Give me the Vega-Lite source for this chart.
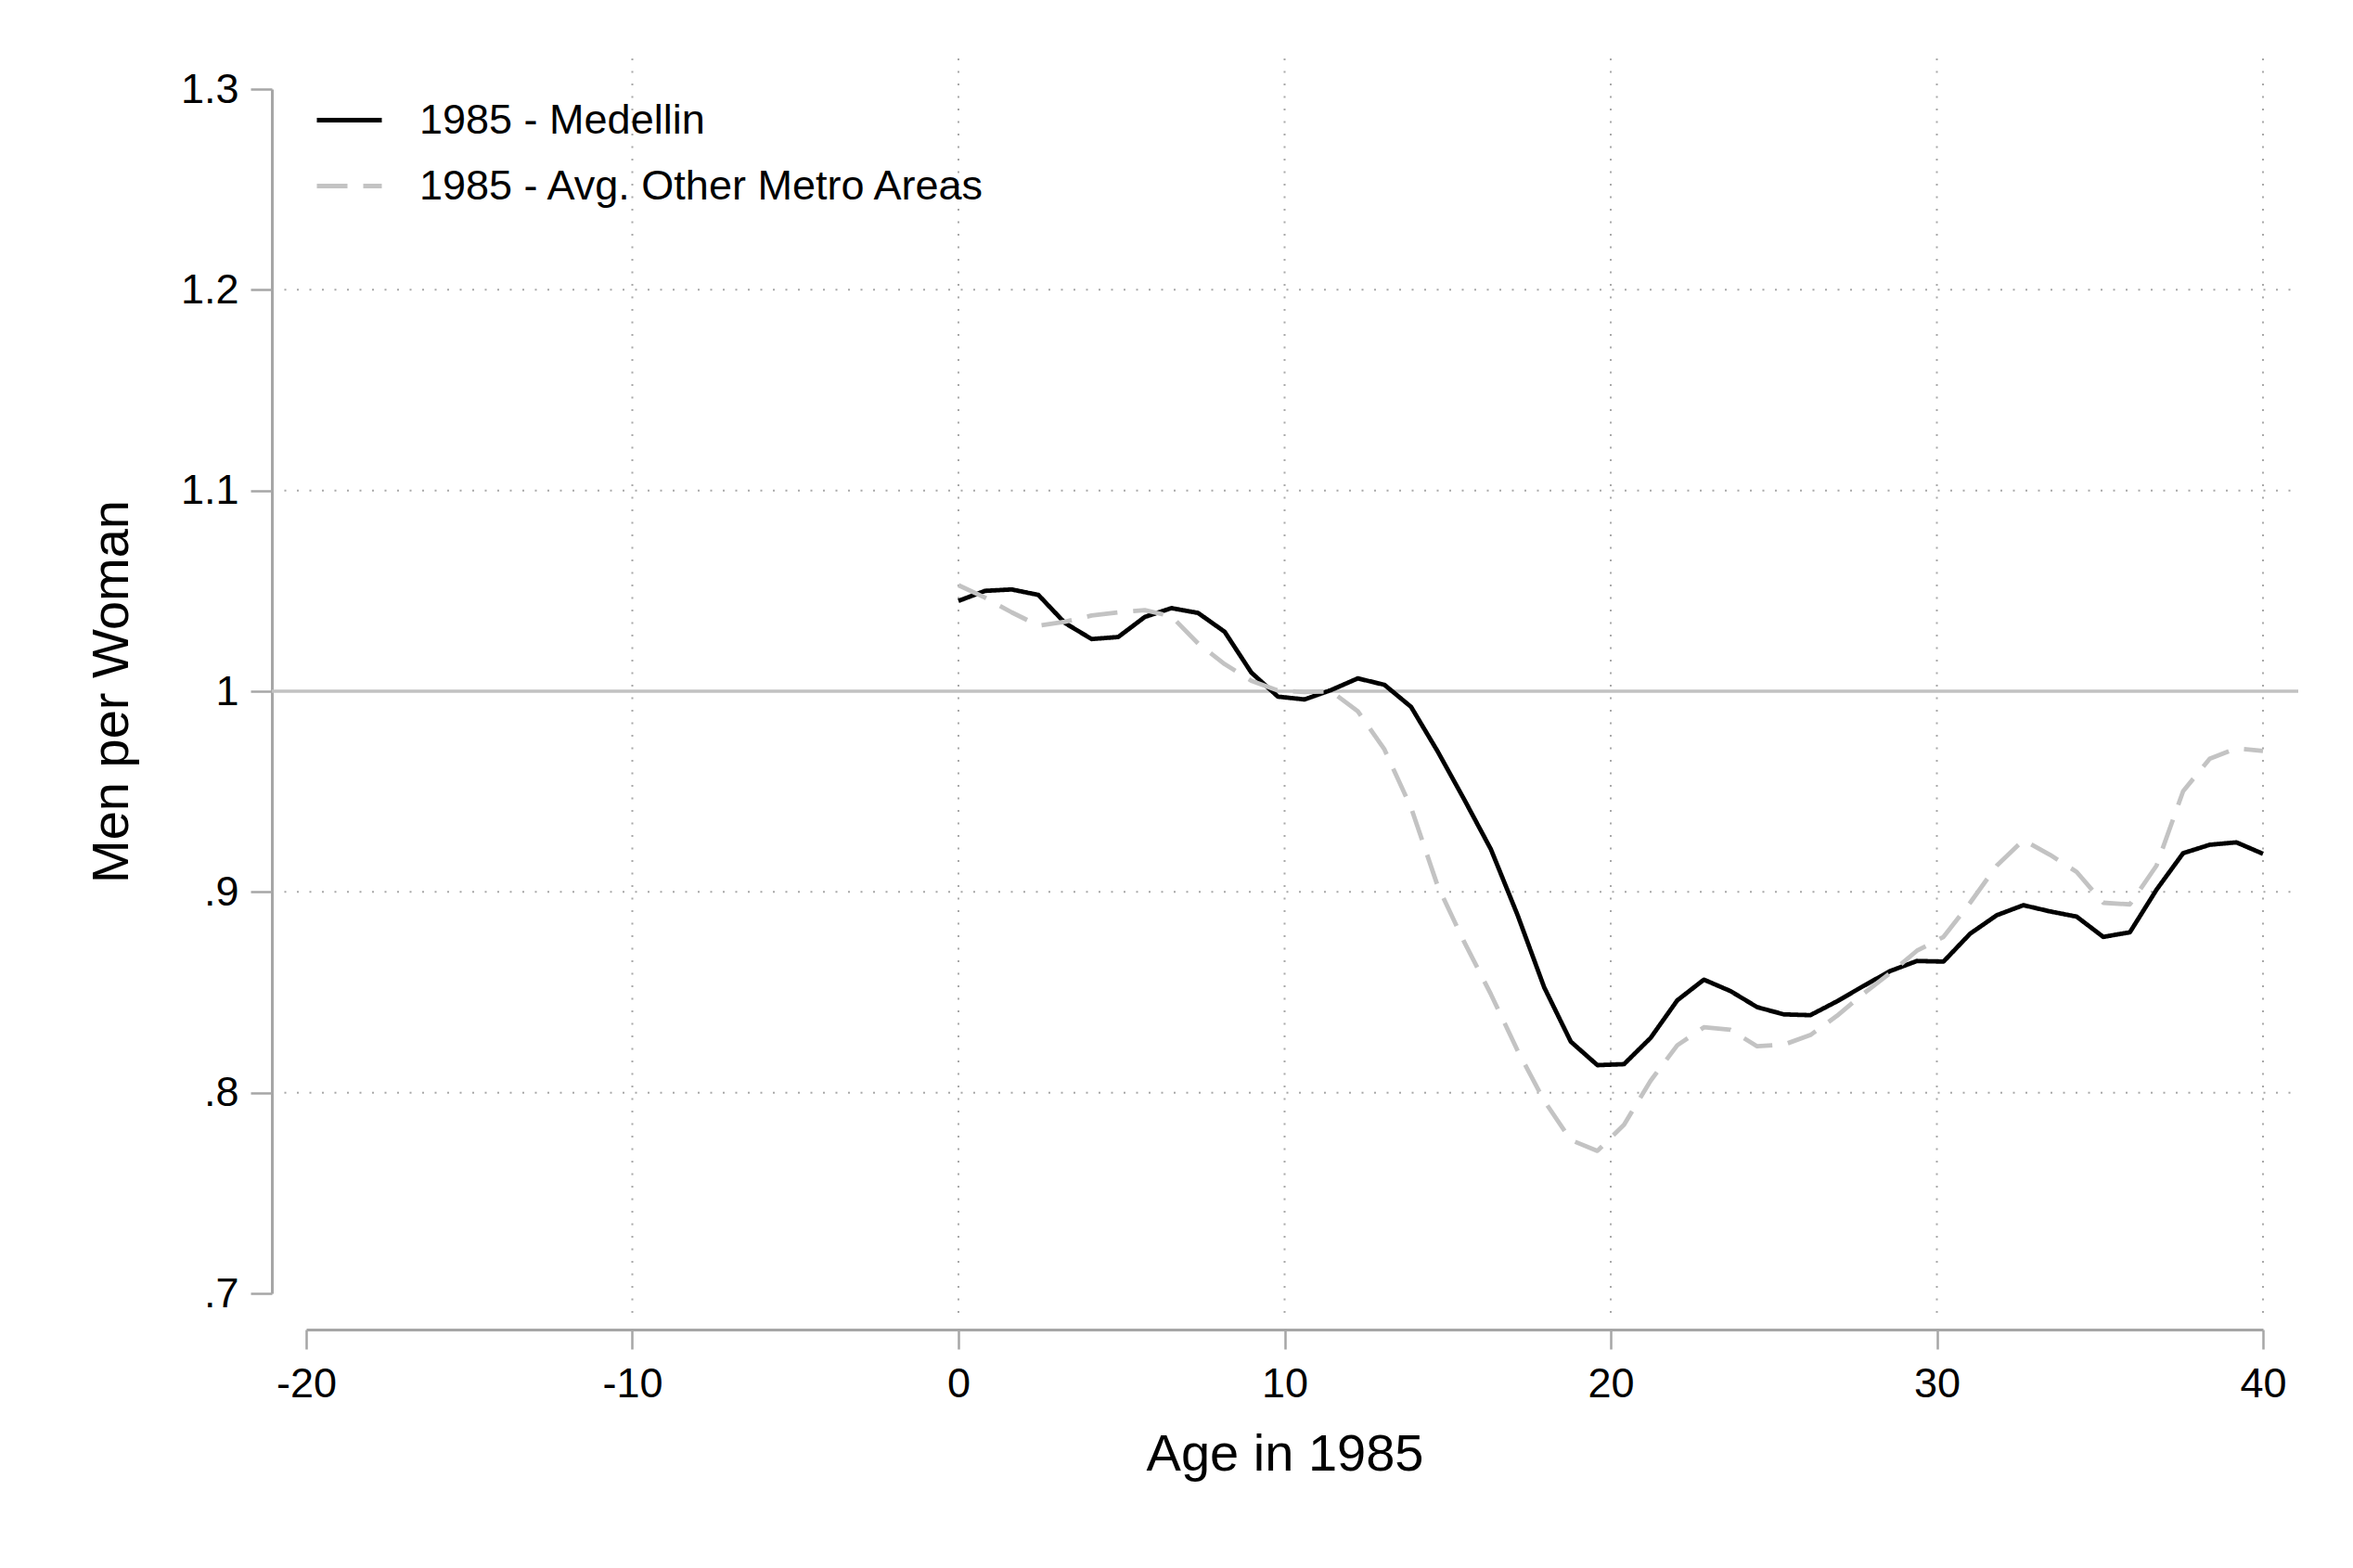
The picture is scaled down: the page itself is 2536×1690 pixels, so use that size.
{
  "$schema": "https://vega.github.io/schema/vega-lite/v6.json",
  "width": 2184,
  "height": 1354,
  "autosize": {"type": "none"},
  "padding": {"left": 293, "top": 63, "right": 59, "bottom": 273},
  "background": "white",
  "config": {"view": {"stroke": null}, "font": "Liberation Sans"},
  "datasets": {
    "gridx": [{"v": -10}, {"v": 0}, {"v": 10}, {"v": 20}, {"v": 30}, {"v": 40}],
    "gridy": [{"v": 0.8}, {"v": 0.9}, {"v": 1.1}, {"v": 1.2}],
    "ref": [{"v": 1}],
    "series": [
      {"age": 0, "series": "1985 - Medellin", "ratio": 1.045},
      {"age": 0.816, "series": "1985 - Medellin", "ratio": 1.050},
      {"age": 1.633, "series": "1985 - Medellin", "ratio": 1.0507},
      {"age": 2.449, "series": "1985 - Medellin", "ratio": 1.048},
      {"age": 3.265, "series": "1985 - Medellin", "ratio": 1.034},
      {"age": 4.082, "series": "1985 - Medellin", "ratio": 1.026},
      {"age": 4.898, "series": "1985 - Medellin", "ratio": 1.027},
      {"age": 5.714, "series": "1985 - Medellin", "ratio": 1.037},
      {"age": 6.531, "series": "1985 - Medellin", "ratio": 1.0414},
      {"age": 7.347, "series": "1985 - Medellin", "ratio": 1.039},
      {"age": 8.163, "series": "1985 - Medellin", "ratio": 1.0296},
      {"age": 8.980, "series": "1985 - Medellin", "ratio": 1.0093},
      {"age": 9.796, "series": "1985 - Medellin", "ratio": 0.9973},
      {"age": 10.612, "series": "1985 - Medellin", "ratio": 0.9959},
      {"age": 11.429, "series": "1985 - Medellin", "ratio": 1.0006},
      {"age": 12.245, "series": "1985 - Medellin", "ratio": 1.0064},
      {"age": 13.061, "series": "1985 - Medellin", "ratio": 1.0032},
      {"age": 13.878, "series": "1985 - Medellin", "ratio": 0.9922},
      {"age": 14.694, "series": "1985 - Medellin", "ratio": 0.970},
      {"age": 15.510, "series": "1985 - Medellin", "ratio": 0.946},
      {"age": 16.327, "series": "1985 - Medellin", "ratio": 0.9212},
      {"age": 17.143, "series": "1985 - Medellin", "ratio": 0.8885},
      {"age": 17.959, "series": "1985 - Medellin", "ratio": 0.8525},
      {"age": 18.776, "series": "1985 - Medellin", "ratio": 0.8254},
      {"age": 19.592, "series": "1985 - Medellin", "ratio": 0.8137},
      {"age": 20.408, "series": "1985 - Medellin", "ratio": 0.8142},
      {"age": 21.224, "series": "1985 - Medellin", "ratio": 0.8273},
      {"age": 22.041, "series": "1985 - Medellin", "ratio": 0.846},
      {"age": 22.857, "series": "1985 - Medellin", "ratio": 0.8563},
      {"age": 23.673, "series": "1985 - Medellin", "ratio": 0.8506},
      {"age": 24.490, "series": "1985 - Medellin", "ratio": 0.8426},
      {"age": 25.306, "series": "1985 - Medellin", "ratio": 0.8390},
      {"age": 26.122, "series": "1985 - Medellin", "ratio": 0.8386},
      {"age": 26.939, "series": "1985 - Medellin", "ratio": 0.8455},
      {"age": 27.755, "series": "1985 - Medellin", "ratio": 0.8532},
      {"age": 28.571, "series": "1985 - Medellin", "ratio": 0.8606},
      {"age": 29.388, "series": "1985 - Medellin", "ratio": 0.8656},
      {"age": 30.204, "series": "1985 - Medellin", "ratio": 0.8653},
      {"age": 31.020, "series": "1985 - Medellin", "ratio": 0.8792},
      {"age": 31.837, "series": "1985 - Medellin", "ratio": 0.8884},
      {"age": 32.653, "series": "1985 - Medellin", "ratio": 0.8934},
      {"age": 33.469, "series": "1985 - Medellin", "ratio": 0.8903},
      {"age": 34.286, "series": "1985 - Medellin", "ratio": 0.8877},
      {"age": 35.102, "series": "1985 - Medellin", "ratio": 0.8776},
      {"age": 35.918, "series": "1985 - Medellin", "ratio": 0.8799},
      {"age": 36.735, "series": "1985 - Medellin", "ratio": 0.9011},
      {"age": 37.551, "series": "1985 - Medellin", "ratio": 0.9193},
      {"age": 38.367, "series": "1985 - Medellin", "ratio": 0.9235},
      {"age": 39.184, "series": "1985 - Medellin", "ratio": 0.9247},
      {"age": 40, "series": "1985 - Medellin", "ratio": 0.919},
      {"age": 0, "series": "1985 - Avg. Other Metro Areas", "ratio": 1.0528},
      {"age": 0.816, "series": "1985 - Avg. Other Metro Areas", "ratio": 1.0466},
      {"age": 1.633, "series": "1985 - Avg. Other Metro Areas", "ratio": 1.0393},
      {"age": 2.449, "series": "1985 - Avg. Other Metro Areas", "ratio": 1.0327},
      {"age": 3.265, "series": "1985 - Avg. Other Metro Areas", "ratio": 1.0346},
      {"age": 4.082, "series": "1985 - Avg. Other Metro Areas", "ratio": 1.0377},
      {"age": 4.898, "series": "1985 - Avg. Other Metro Areas", "ratio": 1.0393},
      {"age": 5.714, "series": "1985 - Avg. Other Metro Areas", "ratio": 1.0404},
      {"age": 6.531, "series": "1985 - Avg. Other Metro Areas", "ratio": 1.0373},
      {"age": 7.347, "series": "1985 - Avg. Other Metro Areas", "ratio": 1.0238},
      {"age": 8.163, "series": "1985 - Avg. Other Metro Areas", "ratio": 1.0135},
      {"age": 8.980, "series": "1985 - Avg. Other Metro Areas", "ratio": 1.0052},
      {"age": 9.796, "series": "1985 - Avg. Other Metro Areas", "ratio": 1.0004},
      {"age": 10.612, "series": "1985 - Avg. Other Metro Areas", "ratio": 0.9996},
      {"age": 11.429, "series": "1985 - Avg. Other Metro Areas", "ratio": 1.0},
      {"age": 12.245, "series": "1985 - Avg. Other Metro Areas", "ratio": 0.990},
      {"age": 13.061, "series": "1985 - Avg. Other Metro Areas", "ratio": 0.971},
      {"age": 13.878, "series": "1985 - Avg. Other Metro Areas", "ratio": 0.942},
      {"age": 14.694, "series": "1985 - Avg. Other Metro Areas", "ratio": 0.903},
      {"age": 15.510, "series": "1985 - Avg. Other Metro Areas", "ratio": 0.875},
      {"age": 16.327, "series": "1985 - Avg. Other Metro Areas", "ratio": 0.849},
      {"age": 17.143, "series": "1985 - Avg. Other Metro Areas", "ratio": 0.821},
      {"age": 17.959, "series": "1985 - Avg. Other Metro Areas", "ratio": 0.796},
      {"age": 18.776, "series": "1985 - Avg. Other Metro Areas", "ratio": 0.7764},
      {"age": 19.592, "series": "1985 - Avg. Other Metro Areas", "ratio": 0.771},
      {"age": 20.408, "series": "1985 - Avg. Other Metro Areas", "ratio": 0.784},
      {"age": 21.224, "series": "1985 - Avg. Other Metro Areas", "ratio": 0.806},
      {"age": 22.041, "series": "1985 - Avg. Other Metro Areas", "ratio": 0.8236},
      {"age": 22.857, "series": "1985 - Avg. Other Metro Areas", "ratio": 0.8326},
      {"age": 23.673, "series": "1985 - Avg. Other Metro Areas", "ratio": 0.8313},
      {"age": 24.490, "series": "1985 - Avg. Other Metro Areas", "ratio": 0.8231},
      {"age": 25.306, "series": "1985 - Avg. Other Metro Areas", "ratio": 0.8239},
      {"age": 26.122, "series": "1985 - Avg. Other Metro Areas", "ratio": 0.8287},
      {"age": 26.939, "series": "1985 - Avg. Other Metro Areas", "ratio": 0.8383},
      {"age": 27.755, "series": "1985 - Avg. Other Metro Areas", "ratio": 0.8494},
      {"age": 28.571, "series": "1985 - Avg. Other Metro Areas", "ratio": 0.8596},
      {"age": 29.388, "series": "1985 - Avg. Other Metro Areas", "ratio": 0.8707},
      {"age": 30.204, "series": "1985 - Avg. Other Metro Areas", "ratio": 0.8776},
      {"age": 31.020, "series": "1985 - Avg. Other Metro Areas", "ratio": 0.8946},
      {"age": 31.837, "series": "1985 - Avg. Other Metro Areas", "ratio": 0.9131},
      {"age": 32.653, "series": "1985 - Avg. Other Metro Areas", "ratio": 0.9258},
      {"age": 33.469, "series": "1985 - Avg. Other Metro Areas", "ratio": 0.9185},
      {"age": 34.286, "series": "1985 - Avg. Other Metro Areas", "ratio": 0.910},
      {"age": 35.102, "series": "1985 - Avg. Other Metro Areas", "ratio": 0.8946},
      {"age": 35.918, "series": "1985 - Avg. Other Metro Areas", "ratio": 0.8938},
      {"age": 36.735, "series": "1985 - Avg. Other Metro Areas", "ratio": 0.9131},
      {"age": 37.551, "series": "1985 - Avg. Other Metro Areas", "ratio": 0.9502},
      {"age": 38.367, "series": "1985 - Avg. Other Metro Areas", "ratio": 0.9664},
      {"age": 39.184, "series": "1985 - Avg. Other Metro Areas", "ratio": 0.9715},
      {"age": 40, "series": "1985 - Avg. Other Metro Areas", "ratio": 0.9702}
    ]
  },
  "layer": [
    {
      "data": {"name": "gridx"},
      "mark": {"type": "rule", "color": "#a8a8a8", "strokeWidth": 2, "strokeDash": [2, 11.5]},
      "encoding": {
        "x": {"field": "v", "type": "quantitative",
              "scale": {"domain": [-20, 40], "range": [37, 2146], "nice": false, "zero": false}},
        "y": {"value": 0},
        "y2": {"value": "height"}
      }
    },
    {
      "data": {"name": "gridy"},
      "mark": {"type": "rule", "color": "#a8a8a8", "strokeWidth": 2, "strokeDash": [2, 11.5]},
      "encoding": {
        "y": {"field": "v", "type": "quantitative",
              "scale": {"domain": [0.7, 1.3], "range": [1331, 33], "nice": false, "zero": false}},
        "x": {"value": 0},
        "x2": {"value": "width"}
      }
    },
    {
      "data": {"name": "ref"},
      "mark": {"type": "rule", "color": "#c2c2c2", "strokeWidth": 3.5},
      "encoding": {
        "y": {"field": "v", "type": "quantitative",
              "scale": {"domain": [0.7, 1.3], "range": [1331, 33], "nice": false, "zero": false}},
        "x": {"value": 0},
        "x2": {"value": "width"}
      }
    },
    {
      "data": {"name": "series"},
      "mark": {"type": "line", "strokeWidth": 4.8, "strokeJoin": "round"},
      "encoding": {
        "x": {
          "field": "age", "type": "quantitative",
          "scale": {"domain": [-20, 40], "range": [37, 2146], "nice": false, "zero": false},
          "axis": {
            "title": "Age in 1985",
            "values": [-20, -10, 0, 10, 20, 30, 40],
            "labelExpr": "'' + datum.value",
            "grid": false,
            "offset": 16,
            "domainColor": "#a6a6a6", "domainWidth": 3,
            "tickColor": "#a6a6a6", "tickWidth": 2.5, "tickSize": 21,
            "labelFont": "Liberation Sans", "labelFontSize": 45, "labelColor": "#000000", "labelPadding": 15,
            "labelFlush": false, "labelOverlap": false,
            "titleFont": "Liberation Sans", "titleFontSize": 56, "titleFontWeight": "normal", "titleColor": "#000000",
            "titlePadding": 26
          }
        },
        "y": {
          "field": "ratio", "type": "quantitative",
          "scale": {"domain": [0.7, 1.3], "range": [1331, 33], "nice": false, "zero": false},
          "axis": {
            "title": "Men per Woman",
            "values": [0.7, 0.8, 0.9, 1, 1.1, 1.2, 1.3],
            "labelExpr": "replace(format(datum.value, '.1~f'), '0.', '.')",
            "grid": false,
            "offset": 0,
            "domainColor": "#a6a6a6", "domainWidth": 3,
            "tickColor": "#a6a6a6", "tickWidth": 2.5, "tickSize": 23,
            "labelFont": "Liberation Sans", "labelFontSize": 45, "labelColor": "#000000", "labelPadding": 13,
            "labelFlush": false, "labelOverlap": false,
            "titleFont": "Liberation Sans", "titleFontSize": 56, "titleFontWeight": "normal", "titleColor": "#000000",
            "titlePadding": 45
          }
        },
        "color": {
          "field": "series", "type": "nominal",
          "scale": {"domain": ["1985 - Medellin", "1985 - Avg. Other Metro Areas"], "range": ["#000000", "#c3c3c3"]},
          "legend": {
            "orient": "none", "legendX": 46, "legendY": 29, "title": null,
            "symbolType": "stroke", "symbolSize": 4900, "symbolStrokeWidth": 4.8,
            "labelFont": "Liberation Sans", "labelFontSize": 45, "labelColor": "#000000",
            "labelOffset": 38, "rowPadding": 10, "padding": 0, "labelLimit": 1000
          }
        },
        "strokeDash": {
          "field": "series", "type": "nominal",
          "scale": {"domain": ["1985 - Medellin", "1985 - Avg. Other Metro Areas"], "range": [[1, 0], [33, 17]]},
          "legend": {
            "orient": "none", "legendX": 46, "legendY": 29, "title": null,
            "symbolType": "stroke", "symbolSize": 4900, "symbolStrokeWidth": 4.8,
            "labelFont": "Liberation Sans", "labelFontSize": 45, "labelColor": "#000000",
            "labelOffset": 38, "rowPadding": 10, "padding": 0, "labelLimit": 1000
          }
        }
      }
    }
  ]
}
